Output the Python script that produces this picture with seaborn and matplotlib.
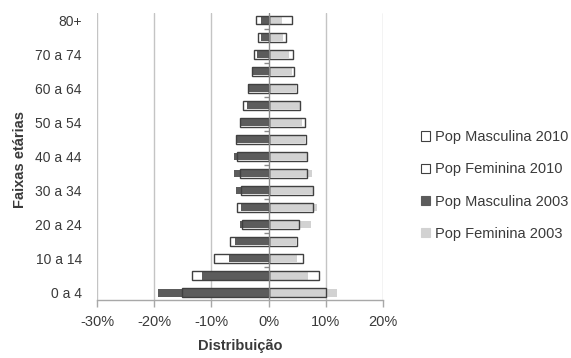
import numpy as np
import pandas as pd
import matplotlib
matplotlib.use("Agg")
import matplotlib.pyplot as plt
from matplotlib.patches import Patch
from matplotlib.ticker import FuncFormatter
import seaborn as sns

# Age groups, youngest first
faixas = ["0 a 4", "5 a 9", "10 a 14", "15 a 19", "20 a 24", "25 a 29", "30 a 34",
          "35 a 39", "40 a 44", "45 a 49", "50 a 54", "55 a 59", "60 a 64",
          "65 a 69", "70 a 74", "75 a 79", "80+"]

# Share of population per age group (%); male shares are negative
masc_2010 = [-15.1, -13.4, -9.6, -6.7, -4.7, -5.5, -4.8, -5.0, -5.5, -5.7,
             -5.1, -4.5, -3.7, -3.0, -2.6, -1.9, -2.2]
fem_2010 = [10.05, 8.8, 6.0, 4.9, 5.3, 7.75, 7.7, 6.7, 6.7, 6.5,
            6.3, 5.55, 5.0, 4.5, 4.2, 3.0, 4.1]
masc_2003 = [-19.4, -11.6, -7.0, -5.9, -5.1, -4.8, -5.7, -6.1, -6.1, -5.7,
             -5.1, -3.8, -3.7, -3.0, -2.0, -1.3, -1.35]
fem_2003 = [12.0, 6.9, 5.0, 4.8, 7.4, 8.5, 7.7, 7.5, 6.7, 6.4,
            5.85, 5.5, 4.7, 4.1, 3.6, 2.5, 2.3]

x_ticks = [-30, -20, -10, 0, 10, 20]

series_labels = ["Pop Masculina 2010", "Pop Feminina 2010",
                 "Pop Masculina 2003", "Pop Feminina 2003"]

df = pd.DataFrame({"faixa": faixas,
                   "m2010": masc_2010, "f2010": fem_2010,
                   "m2003": masc_2003, "f2003": fem_2003})

order = faixas[::-1]  # oldest at the top

sns.set_theme(style="white")
plt.rcParams["font.family"] = ["Liberation Sans", "DejaVu Sans"]
text_color = "#3a3a3a"

fig = plt.figure(figsize=(5.71, 3.58), dpi=100)
ax = fig.add_axes([0.170, 0.162, 0.501, 0.802])

dark = "#5c5c5c"
light = "#d2d2d2"
edge = "#404040"

# vertical gridlines
for v in x_ticks:
    if v != 0:
        ax.axvline(v, color="#c4c4c4", lw=1.0, zorder=0)

# 2003 filled bars
sns.barplot(data=df, y="faixa", x="m2003", order=order, orient="h",
            color=dark, width=0.44, saturation=1, linewidth=0, ax=ax, zorder=2)
sns.barplot(data=df, y="faixa", x="f2003", order=order, orient="h",
            color=light, width=0.44, saturation=1, linewidth=0, ax=ax, zorder=2)
# 2010 outlined bars on top
sns.barplot(data=df, y="faixa", x="m2010", order=order, orient="h",
            fill=False, color=edge, width=0.52, linewidth=1.0, ax=ax, zorder=3)
sns.barplot(data=df, y="faixa", x="f2010", order=order, orient="h",
            fill=False, color=edge, width=0.52, linewidth=1.0, ax=ax, zorder=3)

# zero axis with small tick marks every two groups
ax.axvline(0, color="#8a8a8a", lw=1.0, zorder=4)
marks = np.arange(0.5, len(faixas) - 1, 2)
ax.plot(np.zeros(len(marks)), marks, linestyle="none", marker=0,
        markersize=3.5, color="#8a8a8a", markeredgewidth=1.0, zorder=4)

ax.set_xlim(-30, 20)
ax.set_ylim(len(faixas) - 1 + 0.42, -0.42)

ax.set_xticks(x_ticks)
ax.xaxis.set_major_formatter(FuncFormatter(lambda v, p: f"{int(v)}%"))
ax.set_yticks(range(0, len(order), 2))
ax.set_yticklabels(order[::2])

for s in ["top", "right", "left"]:
    ax.spines[s].set_visible(False)
ax.spines["bottom"].set_color("#a8a8a8")
ax.spines["bottom"].set_linewidth(1.0)
ax.spines["bottom"].set_zorder(5)

ax.tick_params(axis="x", which="major", bottom=True, length=5, width=1.0,
               color="#a8a8a8", labelsize=10.5, labelcolor=text_color, pad=6)
ax.tick_params(axis="y", left=False, labelsize=10, labelcolor=text_color, pad=5)

ax.set_xlabel("Distribuição", fontsize=10.5, fontweight="bold", color=text_color)
ax.xaxis.set_label_coords(0.5, -0.135)
ax.set_ylabel("Faixas etárias", fontsize=10.5, fontweight="bold", color=text_color)
ax.yaxis.set_label_coords(-0.245, 0.49)

handles = [Patch(facecolor="white", edgecolor=edge, linewidth=0.8),
           Patch(facecolor="white", edgecolor=edge, linewidth=0.8),
           Patch(facecolor=dark, edgecolor=dark, linewidth=0.8),
           Patch(facecolor=light, edgecolor=light, linewidth=0.8)]
fig.legend(handles, series_labels, loc="center left",
           bbox_to_anchor=(0.738, 0.482), frameon=False,
           fontsize=10.5, labelcolor=text_color,
           handlelength=0.6, handleheight=0.6, handletextpad=0.3,
           labelspacing=1.25, borderpad=0, borderaxespad=0)

fig.savefig("out.png", dpi=100)
